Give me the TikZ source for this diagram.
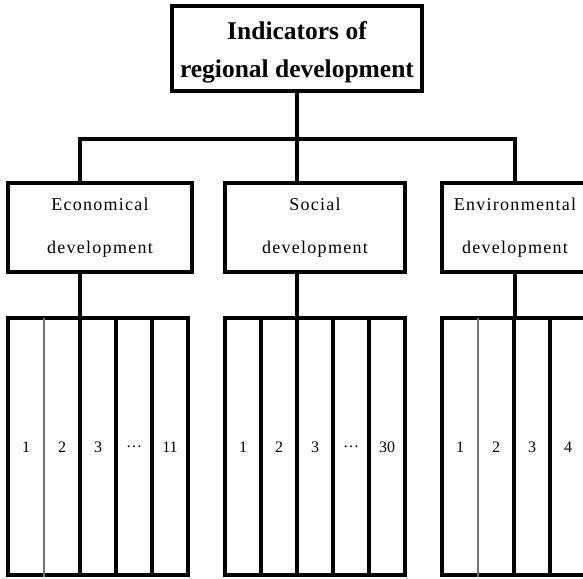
\documentclass[tikz,border=0pt]{standalone}
\usepackage{fontspec}
\setmainfont{Liberation Serif}
\newfontfamily\spacedfont[LetterSpace=7]{Liberation Serif}
\begin{document}
\begin{tikzpicture}[x=1pt,y=-1pt,
    box/.style={draw,line width=4pt,inner sep=0pt,minimum height=89pt,
      font=\spacedfont\fontsize{18}{43}\selectfont},
    bars/.style={draw,line width=4pt,inner sep=0pt,minimum height=257pt},
    link/.style={line width=4pt},
    div/.style={line width=3.2pt},
    faint/.style={line width=2pt,black!55},
    num/.style={font=\fontsize{16}{18}\selectfont},
    every node/.style={align=center}]
  \useasboundingbox (0,0) rectangle (583,578);
  % ---- the root box ----
  \node[draw,line width=4pt,inner sep=0pt,minimum width=250pt,minimum height=85pt,
    font=\bfseries\fontsize{25.5}{38}\selectfont] (root) at (297,48.5)
    {\rule{0pt}{26pt}Indicators of\\regional development};
  % ---- the three groups ----
  \node[box,minimum width=184pt] (eco) at (100,227.5) {Economical\\development};
  \node[box,minimum width=180pt] (soc) at (315,227.5) {Social\\development};
  \node[box,minimum width=146pt] (env) at (515,227.5) {Environmental\\development};
  \coordinate (hub) at (297,139);
  \coordinate (jl) at (80,139);
  \coordinate (jr) at (515,139);
  \draw[link] (root.south) -- (hub |- soc.north);
  \draw[link] (jl |- eco.north) -- (jl) -- (jr) -- (jr |- env.north);
  % ---- the indicator columns ----
  \node[bars,minimum width=180pt] (ecobars) at (98,446.5) {};
  \node[bars,minimum width=180pt] (socbars) at (315,446.5) {};
  \node[bars,minimum width=144pt] (envbars) at (514,446.5) {};
  \draw[link] (jl |- eco.south) -- (jl |- ecobars.north);
  \draw[link] (hub |- soc.south) -- (hub |- socbars.north);
  \draw[link] (jr |- env.south) -- (jr |- envbars.north);
  \foreach \t [count=\k] in {1,2,3,\ldots,11}
    \node[num] (eco\k) at ({36*\k-10},447) {\t};
  \foreach \t [count=\k] in {1,2,3,\ldots,30}
    \node[num] (soc\k) at ({36*\k+207},447) {\t};
  \foreach \t [count=\k] in {1,2,3,4}
    \node[num] (env\k) at ({36*\k+424},447) {\t};
  % ---- dividers ----
  \foreach \x/\s in {44/faint,80/div,116/div,152/div,
                     261/div,297/div,333/div,369/div,
                     478/faint,514/div,550/div}{
    \coordinate (top\x) at (\x,318);
    \draw[\s] (top\x) -- (top\x |- ecobars.south);
  }
\end{tikzpicture}
\end{document}
